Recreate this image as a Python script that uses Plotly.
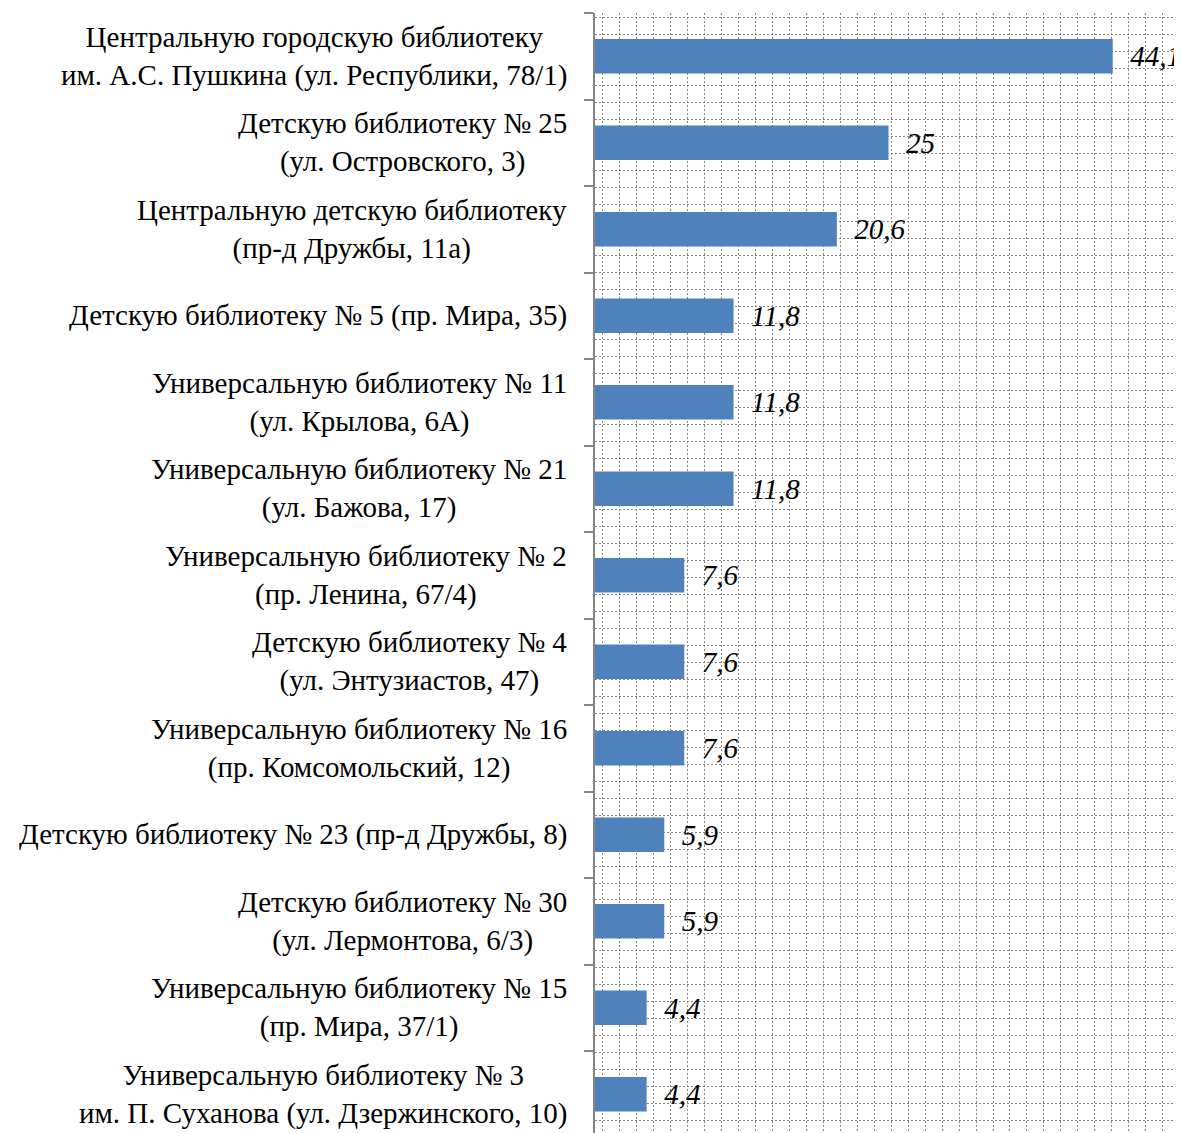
import plotly.graph_objects as go

categories = [
    "Центральную городскую библиотеку<br>им. А.С. Пушкина (ул. Республики, 78/1)",
    "Детскую библиотеку № 25<br>(ул. Островского, 3)",
    "Центральную детскую библиотеку<br>(пр-д Дружбы, 11а)",
    "Детскую библиотеку № 5 (пр. Мира, 35)",
    "Универсальную библиотеку № 11<br>(ул. Крылова, 6А)",
    "Универсальную библиотеку № 21<br>(ул. Бажова, 17)",
    "Универсальную библиотеку № 2<br>(пр. Ленина, 67/4)",
    "Детскую библиотеку № 4<br>(ул. Энтузиастов, 47)",
    "Универсальную библиотеку № 16<br>(пр. Комсомольский, 12)",
    "Детскую библиотеку № 23 (пр-д Дружбы, 8)",
    "Детскую библиотеку № 30<br>(ул. Лермонтова, 6/3)",
    "Универсальную библиотеку № 15<br>(пр. Мира, 37/1)",
    "Универсальную библиотеку № 3<br>им. П. Суханова (ул. Дзержинского, 10)",
]
values = [44.1, 25, 20.6, 11.8, 11.8, 11.8, 7.6, 7.6, 7.6, 5.9, 5.9, 4.4, 4.4]
value_labels = [("%g" % v).replace(".", ",") for v in values]

BODY = 8  # default page body margin
W, H = 1182 - BODY, 1133 - BODY
ML, MR, MT, MB = 595 - BODY, 0, 13 - BODY, 0
PW = W - ML - MR
PH = H - MT - MB
XMAX = 50
GRID = 16.97
CAT = 86.5  # pixel height of one category band
px_per_unit = PW / XMAX

FONT = "Liberation Serif, Times New Roman, serif"
GRIDCOL = "#858585"

fig = go.Figure()
fig.add_trace(go.Bar(
    y=categories, x=values, orientation="h",
    marker=dict(color="#4F81BD", line=dict(width=0)),
    text=["\u00a0\u00a0" + t for t in value_labels],
    textposition="outside", cliponaxis=False, constraintext="none",
    textfont=dict(family=FONT, size=29, color="black", style="italic"),
    hoverinfo="skip",
))
# helper (empty) trace so that the overlay axis carrying the horizontal grid is drawn
fig.add_trace(go.Scatter(x=[], y=[], yaxis="y2", mode="markers",
                         showlegend=False, hoverinfo="skip"))

for c in categories:
    fig.add_annotation(
        x=0, xref="paper", y=c, yref="y", xanchor="right", xshift=-26,
        text=c, showarrow=False, align="center",
        font=dict(family=FONT, size=29, color="black"),
    )

fig.update_layout(
    width=W, height=H,
    margin=dict(l=ML, r=MR, t=MT, b=MB, pad=0),
    paper_bgcolor="white", plot_bgcolor="white",
    bargap=0.6, showlegend=False,
    xaxis=dict(
        range=[0, XMAX], showticklabels=False, ticks="",
        showgrid=True, gridcolor=GRIDCOL, griddash="2px,2px", gridwidth=1,
        tick0=7.7 / px_per_unit, dtick=GRID / px_per_unit,
        zeroline=False, showline=False,
    ),
    yaxis=dict(
        type="category", range=[-0.5 + PH / CAT, -0.5], showticklabels=False,
        ticks="outside", ticklen=9, tickcolor="#868686", tickwidth=1.5,
        tickson="boundaries", showgrid=False,
        showline=True, linecolor="#868686", linewidth=1.5, zeroline=False,
    ),
    yaxis2=dict(
        overlaying="y", range=[PH, 0], showticklabels=False, ticks="",
        showgrid=True, gridcolor=GRIDCOL, griddash="2px,2px", gridwidth=1,
        tick0=(492.7 - 13) % GRID, dtick=GRID, zeroline=False, showline=False,
    ),
)

fig.write_html("out.html")
